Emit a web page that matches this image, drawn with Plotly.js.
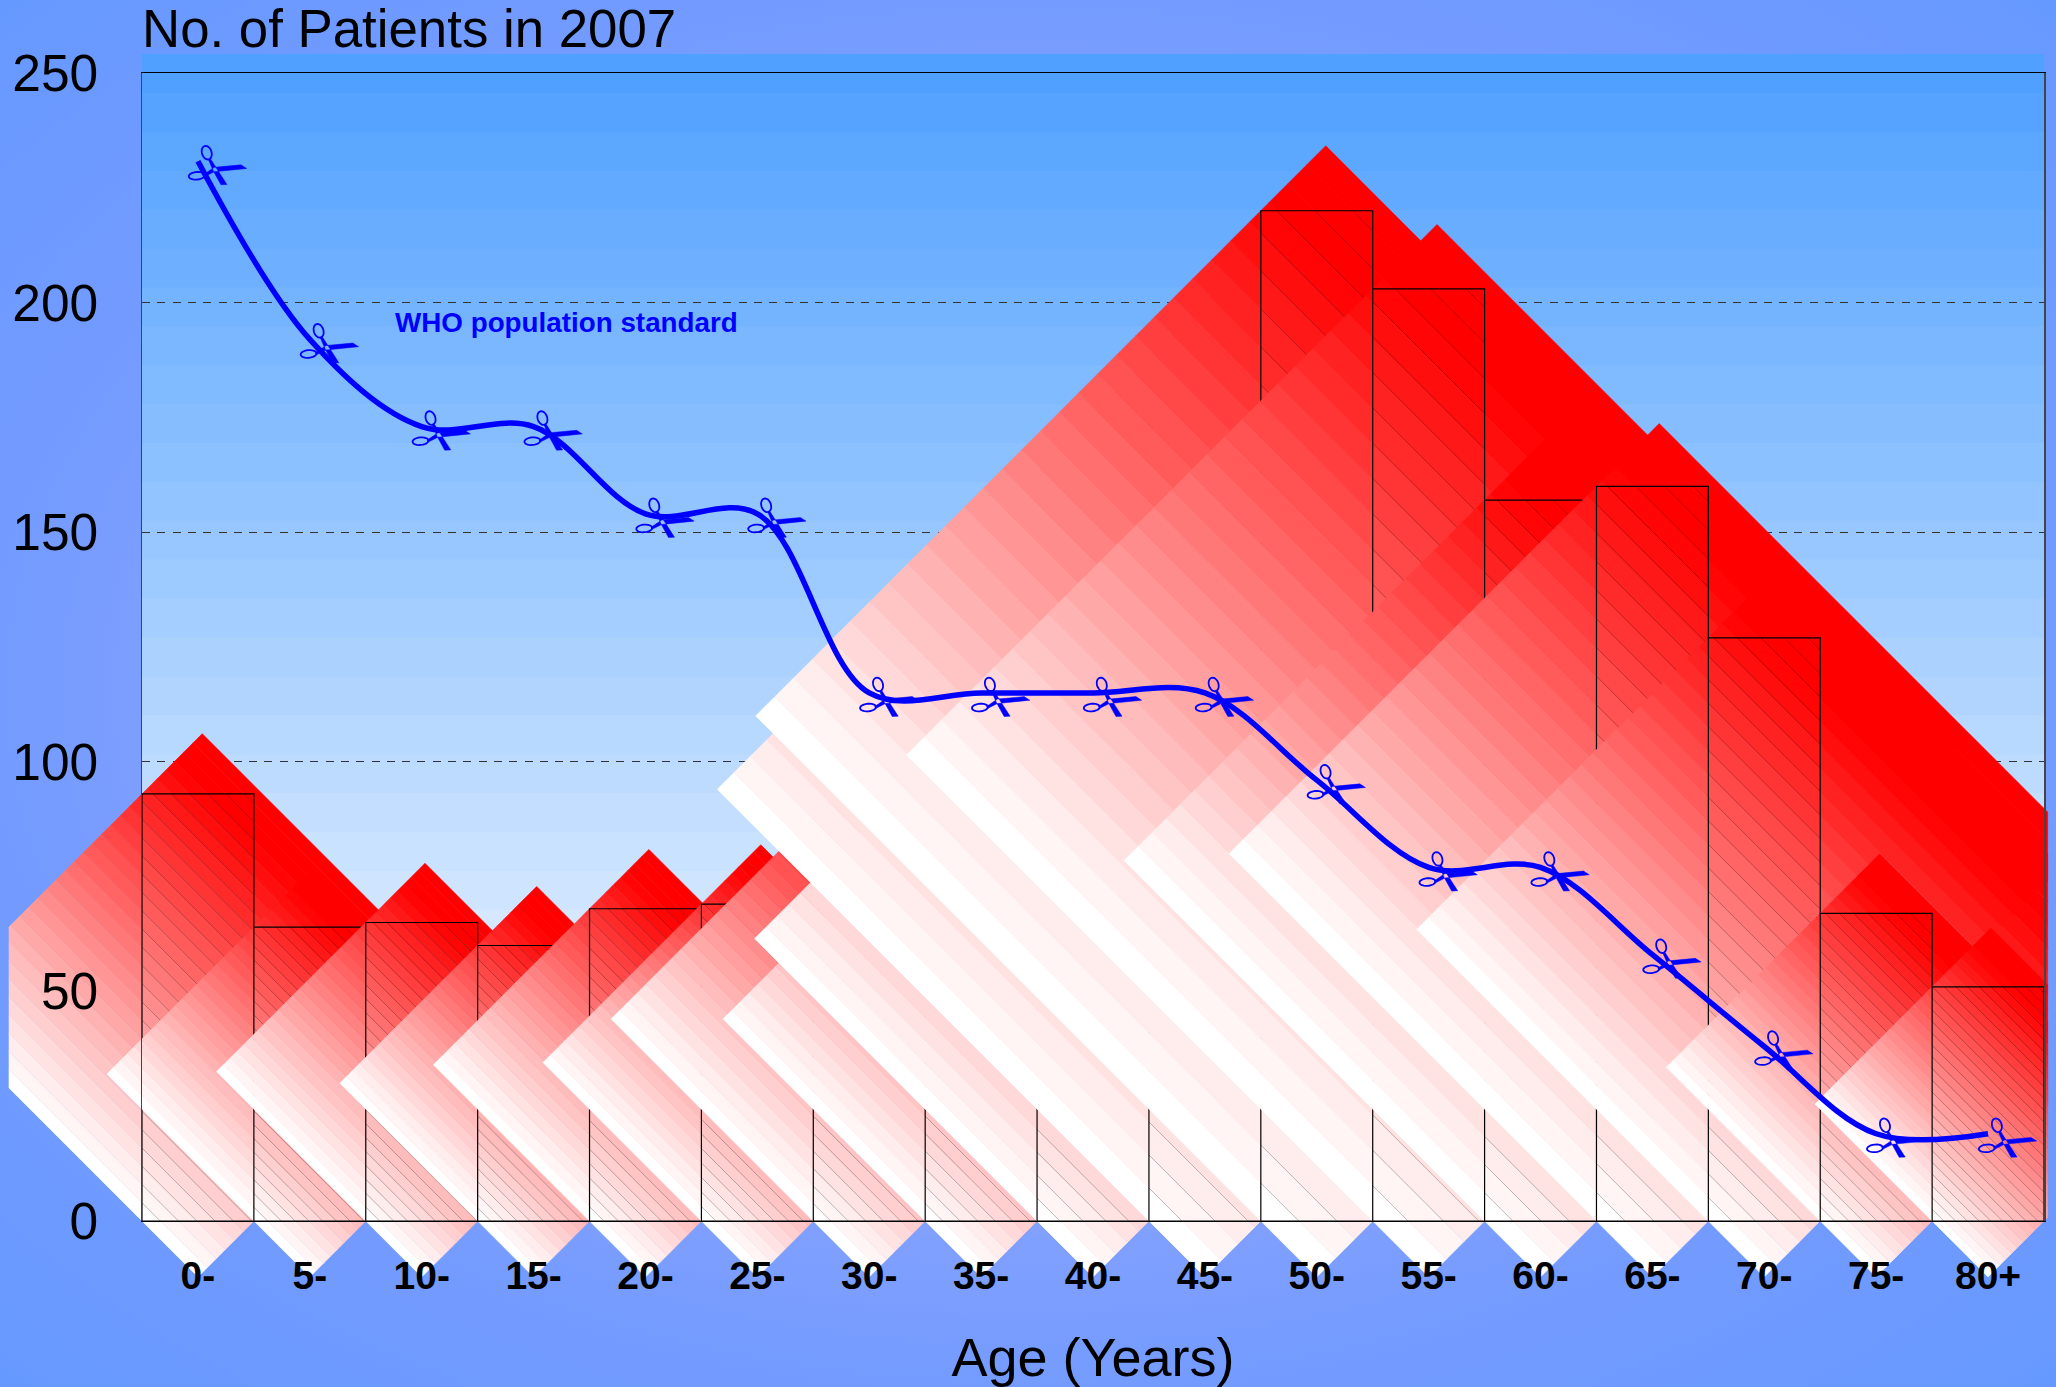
<!DOCTYPE html>
<html>
<head>
<meta charset="utf-8">
<script src="https://cdn.plot.ly/plotly-3.0.1.min.js"></script>
<style>
html,body{margin:0;padding:0;width:2056px;height:1387px;overflow:hidden;
background:radial-gradient(ellipse 1028px 693px at 50% 50%,#8CA5FF 70%,#80A0FF 79%,#749BFF 100%,#6699FF 141%);}
#chart{width:2056px;height:1387px;}
/* the gradient tiles spill past the axes in the reference */
#chart .overplot, #chart .overplot *{clip-path:none !important;}
</style>
</head>
<body>
<div id="chart"></div>
<script>
var ageGroups = ['0-','5-','10-','15-','20-','25-','30-','35-','40-','45-','50-','55-','60-','65-','70-','75-','80+'];
var patients = [93,64,65,60,68,69,88,88,123,188,220,203,157,160,127,67,51];
var whoStandard = [230.8,192,173,173,154,154,115,115,115,115,96,77,77,58,38,19,19];
var yTicks = [0,50,100,150,200,250];

var W = 2056, H = 1387;
var M = {l:142, r:12, t:73, b:166};
var plotW = W - M.l - M.r, plotH = H - M.t - M.b;
var n = ageGroups.length;
var yMax = 250;
var SX = plotW / n, SY = plotH / yMax;
var BANDS = 30;
var clipL = -0.5 - 133 / SX, clipR = n - 0.5 + 3.6 / SX;
var idx = ageGroups.map(function(_, i){ return i; });

function clipX(poly, limit, keepGreater){
  var out = [];
  for(var i = 0; i < poly.length; i++){
    var a = poly[i], b = poly[(i + 1) % poly.length];
    var ina = keepGreater ? a[0] >= limit : a[0] <= limit;
    var inb = keepGreater ? b[0] >= limit : b[0] <= limit;
    if(ina) out.push(a);
    if(ina !== inb){
      var t = (limit - a[0]) / (b[0] - a[0]);
      out.push([limit, a[1] + t * (b[1] - a[1])]);
    }
  }
  return out;
}
function toData(u, w){
  return [((u + w) / 2) / SX, -((u - w) / 2) / SY];
}
var traces = [];
traces.push({type:'bar', x:idx, y:patients, width:1, marker:{color:'rgba(0,0,0,0)', line:{width:0}},
  showlegend:false, name:'No. of patients', hoverinfo:'y'});

patients.forEach(function(v, i){
  var XL = (i - 0.5) * SX, XR = (i + 0.5) * SX, Yt = -v * SY, Yb = 0;
  var u0 = XL + Yt, u1 = XR + Yb;
  var w0 = XL - Yb, span = (XR - XL + Yb - Yt) * 1.016;
  var step = span / BANDS;
  for(var k = 0; k < BANDS; k++){
    var a = w0 + k * step, b = a + step;
    var poly = [toData(u0,a), toData(u1,a), toData(u1,b), toData(u0,b)];
    poly = clipX(clipX(poly, clipL, true), clipR, false);
    if(poly.length < 3) continue;
    var g = Math.round(255 * (1 - Math.min(1, Math.max(0, k / 26.5))));
    var col = 'rgb(255,' + g + ',' + g + ')';
    var xs = poly.map(function(p){ return p[0]; }), ys = poly.map(function(p){ return p[1]; });
    xs.push(xs[0]); ys.push(ys[0]);
    traces.push({type:'scatter', mode:'lines', x:xs, y:ys, fill:'toself', fillcolor:col,
      line:{color:col, width:0.6}, cliponaxis:false, hoverinfo:'skip', showlegend:false});
  }
  var hx = [], hy = [];
  for(var k2 = 1; k2 < BANDS; k2++){
    var wk = w0 + k2 * step;
    var xa = Math.max(XL, wk + Yt), xb = Math.min(XR, wk + Yb);
    if(xb <= xa) continue;
    hx.push(xa / SX, xb / SX, null);
    hy.push(-(xa - wk) / SY, -(xb - wk) / SY, null);
  }
  traces.push({type:'scatter', mode:'lines', x:hx, y:hy, line:{color:'rgba(0,0,0,0.25)', width:1},
    connectgaps:false, cliponaxis:false, hoverinfo:'skip', showlegend:false});
  traces.push({type:'scatter', mode:'lines', x:[i-0.5,i-0.5,i+0.5,i+0.5,i-0.5], y:[0,v,v,0,0],
    line:{color:'#000', width:1.2}, cliponaxis:false, hoverinfo:'skip', showlegend:false});
});

traces.push({type:'scatter', mode:'lines', x:idx, y:whoStandard, name:'WHO population standard',
  line:{color:'#0000FF', width:5.5, shape:'spline', smoothing:1}, cliponaxis:false, showlegend:false});

var shapes = [];
var wallTop = 54, wallBottom = H - M.b;
for(var b = 0; b < BANDS; b++){
  var t = b / (BANDS - 1);
  var y0 = wallTop + b * (wallBottom - wallTop) / BANDS;
  var c = 'rgb(' + Math.round(80 + 175 * t) + ',' + Math.round(160 + 95 * t) + ',255)';
  shapes.push({type:'rect', xref:'paper', yref:'paper', layer:'below', x0:0, x1:1,
    y0:1 - (y0 - M.t) / plotH, y1:0, fillcolor:c, line:{width:0}});
}
function ellipsePath(cx, cy, rx, ry, deg){
  var r = deg * Math.PI / 180, s = '';
  for(var j = 0; j < 24; j++){
    var a = j / 24 * 2 * Math.PI;
    var ex = rx * Math.cos(a), ey = ry * Math.sin(a);
    var px = cx + ex * Math.cos(r) - ey * Math.sin(r);
    var py = cy + ex * Math.sin(r) + ey * Math.cos(r);
    s += (j ? 'L' : 'M') + px.toFixed(2) + ',' + (-py).toFixed(2);
  }
  return s + 'Z';
}
function polyPath(pts){
  return pts.map(function(p, j){ return (j ? 'L' : 'M') + p[0] + ',' + (-p[1]); }).join('') + 'Z';
}
var bladeLong = [[5.5,13.5],[16.3,6.2],[43,3.7],[48.7,7.3],[16.3,10.6],[6.5,15.5]];
var bladeShort = [[10.5,-1.5],[12.8,-2],[19.5,8.5],[29,23.3],[23,23.6],[15.5,10]];
whoStandard.forEach(function(v, i){
  var base = {type:'path', xref:'x', yref:'y', xsizemode:'pixel', ysizemode:'pixel', xanchor:i, yanchor:v, layer:'above'};
  shapes.push(Object.assign({}, base, {path:polyPath(bladeLong) + polyPath(bladeShort), fillcolor:'#0000FF', line:{color:'#0000FF', width:0.5}}));
  shapes.push(Object.assign({}, base, {path:ellipsePath(8.8,-8.5,4.8,7,-18) + ellipsePath(-1.2,14.6,8,3.8,-5), fillcolor:'rgba(0,0,0,0)', line:{color:'#0000FF', width:1.8}}));
});

var FONT = '"Liberation Sans",Arial,sans-serif';
var layout = {
  width:W, height:H, margin:{l:M.l, r:M.r, t:M.t, b:M.b, pad:0},
  paper_bgcolor:'rgba(0,0,0,0)', plot_bgcolor:'rgba(0,0,0,0)',
  barmode:'overlay', showlegend:false, hovermode:'closest',
  font:{family:FONT, color:'#000'},
  title:{text:'No. of Patients in 2007', xref:'container', yref:'container', x:M.l / W, xanchor:'left',
    y:1 - 29 / H, yanchor:'middle', pad:{l:0,r:0,t:0,b:0}, font:{size:52.8, color:'#000', family:FONT}},
  xaxis:{type:'linear', range:[-0.5, n - 0.5], tickmode:'array', tickvals:idx, ticktext:ageGroups,
    tickfont:{size:39, color:'#000', family:FONT, weight:'bold'},
    ticks:'outside', ticklen:20, tickcolor:'rgba(0,0,0,0)', tickwidth:0, showgrid:false, zeroline:false,
    showline:true, linecolor:'#000', linewidth:1.3, mirror:true, fixedrange:true, layer:'above traces',
    title:{text:'Age (Years)', standoff:42, font:{size:54, color:'#000', family:FONT}}},
  yaxis:{range:[0, yMax], tickmode:'array', tickvals:yTicks, ticktext:yTicks.map(String),
    tickfont:{size:51.5, color:'#000', family:FONT},
    ticks:'outside', ticklen:32, tickcolor:'rgba(0,0,0,0)', tickwidth:0,
    showgrid:true, gridcolor:'#333', gridwidth:1, griddash:'8px,7.3px', zeroline:false,
    showline:true, linecolor:'#444', linewidth:1.5, mirror:true, fixedrange:true, layer:'above traces'},
  shapes:shapes,
  annotations:[{text:'<b>WHO population standard</b>', xref:'x', yref:'y', x:(393 - M.l) / SX - 0.5, y:(H - M.b - 322) / SY,
    xanchor:'left', yanchor:'middle', showarrow:false, font:{size:27.8, color:'#0000FF', family:FONT}}]
};
Plotly.newPlot('chart', traces, layout, {staticPlot:true, displayModeBar:false});
</script>
</body>
</html>
